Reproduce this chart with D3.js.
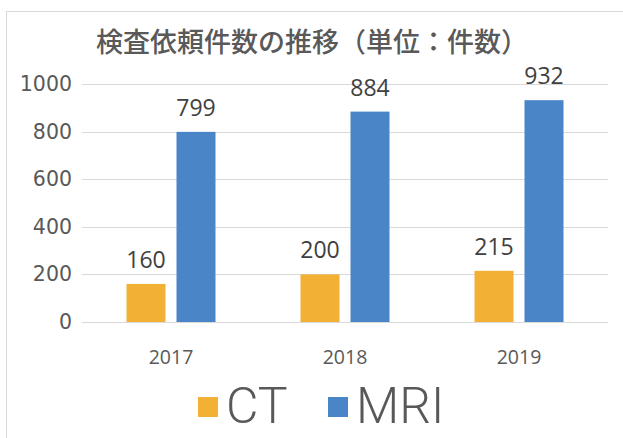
<!DOCTYPE html>
<html><head><meta charset="utf-8">
<script src="https://cdn.jsdelivr.net/npm/d3@7"></script>
<style>html,body{margin:0;padding:0;background:#fff;overflow:hidden}</style>
</head><body><svg id="c" width="623" height="438"></svg>
<script>
const title = "検査依頼件数の推移（単位：件数）";
const years = ["2017", "2018", "2019"];
const seriesNames = ["CT", "MRI"];
const ctValues = [160, 200, 215];
const mriValues = [799, 884, 932];
const yTicks = [0, 200, 400, 600, 800, 1000];
const colors = ["#F2B134", "#4A85C7"];

const svg = d3.select("#c");
// chart frame
svg.append("rect").attr("x", 6.5).attr("y", 11.5).attr("width", 640).attr("height", 460)
  .attr("fill", "#fff").attr("stroke", "#d9d9d9").attr("stroke-width", 1);

const y = d3.scaleLinear().domain([0, 1000]).range([322, 84]);
const x = d3.scaleBand().domain(years).range([84, 606]).padding(0);
const xs = d3.scaleBand().domain(seriesNames).range([0, 89]).paddingInner(0.22);

// gridlines
svg.append("g").selectAll("line").data(yTicks).join("line")
  .attr("x1", 82).attr("x2", 608)
  .attr("y1", d => Math.round(y(d)) + 0.5).attr("y2", d => Math.round(y(d)) + 0.5)
  .attr("stroke", "#d9d9d9").attr("stroke-width", 1);

// y axis labels
const yAxis = d3.axisLeft(y).tickValues(yTicks).tickSize(0).tickPadding(0).tickFormat(d3.format("d"));
const ya = svg.append("g").attr("transform", "translate(72,0)").call(yAxis);
ya.select(".domain").remove();
ya.selectAll("text").attr("font-family", "DejaVu Sans").attr("font-size", 20.5).attr("fill", "#595959");

// x axis labels
const xAxis = d3.axisBottom(x).tickSize(0).tickPadding(0);
const xa = svg.append("g").attr("transform", "translate(0,352)").call(xAxis);
xa.select(".domain").remove();
xa.selectAll("text").attr("font-family", "Open Sans").attr("font-size", 19.5).attr("fill", "#595959").attr("dy", "0.6em");

// bars
const data = years.map((yr, i) => ({ year: yr, vals: [ctValues[i], mriValues[i]] }));
const groups = svg.append("g").selectAll("g").data(data).join("g")
  .attr("transform", d => `translate(${x(d.year) + (x.bandwidth() - 89) / 2},0)`);
groups.selectAll("rect").data(d => d.vals.map((v, j) => ({ s: seriesNames[j], v, j })))
  .join("rect")
  .attr("x", d => xs(d.s)).attr("width", xs.bandwidth())
  .attr("y", d => y(d.v)).attr("height", d => y(0) - y(d.v))
  .attr("fill", d => colors[d.j]);
groups.selectAll("text").data(d => d.vals.map((v, j) => ({ s: seriesNames[j], v, j })))
  .join("text")
  .attr("x", d => xs(d.s) + xs.bandwidth() / 2)
  .attr("y", d => y(d.v) - 16)
  .attr("text-anchor", "middle")
  .attr("font-family", "Open Sans").attr("font-size", 23).attr("fill", "#404040")
  .text(d => d.v);

// title
svg.append("text").attr("x", 312).attr("y", 52).attr("text-anchor", "middle")
  .attr("font-family", "Noto Sans CJK JP").attr("font-size", 27).attr("font-weight", 500)
  .attr("fill", "#595959").text(title);

// legend
const legendX = [198, 328];
const lg = svg.append("g").selectAll("g").data(seriesNames).join("g")
  .attr("transform", (d, i) => `translate(${legendX[i]},397)`);
lg.append("rect").attr("width", 20).attr("height", 20).attr("fill", (d, i) => colors[i]);
lg.append("text").attr("x", 28).attr("y", 26)
  .attr("font-family", "Roboto").attr("font-weight", 300).attr("font-size", 50)
  .attr("fill", "#595959").text(d => d);
</script></body></html>
